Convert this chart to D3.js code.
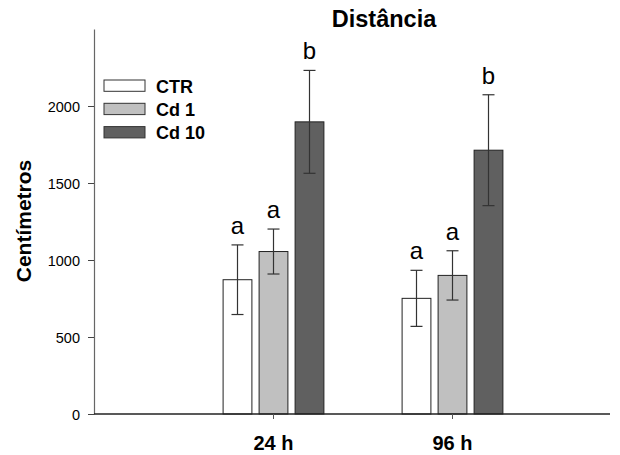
<!DOCTYPE html>
<html>
<head>
<meta charset="utf-8">
<script src="https://cdn.jsdelivr.net/npm/d3@7"></script>
<style>
  body { margin: 0; background: #fff; }
  text { font-family: "Liberation Sans", Arial, sans-serif; }
</style>
</head>
<body>
<div id="chart"></div>
<script>
// data
var groups = ["24 h", "96 h"];
var series = ["CTR", "Cd 1", "Cd 10"];
var means = [[872, 1055, 1897], [751, 900, 1713]];
var errors = [[226, 146, 334], [182, 160, 360]];
var letters = [["a", "a", "b"], ["a", "a", "b"]];
var yTicks = [0, 500, 1000, 1500, 2000];
var fills = ["#ffffff", "#c0c0c0", "#606060"];

var w = 620, h = 455;

var svg = d3.select("#chart")
            .append("svg")
            .attr("width", w)
            .attr("height", h);

var y = d3.scaleLinear().domain([0, 2500]).range([414, 29]);

// groups 179 px apart, centred at ~273 and ~452
var x0 = d3.scaleBand().domain(groups).range([184, 542]);
var x1 = d3.scaleBand().domain(series).range([-54, 54]).paddingInner(0.2).paddingOuter(0.1);

var color = d3.scaleOrdinal().domain(series).range(fills);

// y axis
var yAxis = svg.append("g")
    .attr("transform", "translate(94,0)")
    .call(d3.axisLeft(y).tickValues(yTicks).tickFormat(d3.format("d")).tickSize(6).tickSizeOuter(0));
yAxis.select(".domain").attr("stroke", "#666").attr("stroke-width", 1.2);
yAxis.selectAll(".tick line").attr("stroke", "#444");
yAxis.selectAll(".tick text")
    .attr("font-size", 14.5)
    .attr("fill", "#000")
    .attr("x", -14)
    .attr("dy", "0.36em");

// bars
var g = svg.selectAll(".grp")
    .data(groups)
    .enter()
    .append("g")
    .attr("transform", d => "translate(" + (x0(d) + x0.bandwidth() / 2) + ",0)");

g.each(function(grp, gi) {
    var sel = d3.select(this);
    var rows = series.map((s, si) => ({s: s, m: means[gi][si], e: errors[gi][si], l: letters[gi][si]}));

    sel.selectAll("rect")
        .data(rows)
        .enter()
        .append("rect")
        .attr("x", d => x1(d.s))
        .attr("width", x1.bandwidth())
        .attr("y", d => y(d.m))
        .attr("height", d => y(0) - y(d.m))
        .attr("fill", d => color(d.s))
        .attr("stroke", "#222")
        .attr("stroke-width", 1);

    var eb = sel.selectAll(".eb")
        .data(rows)
        .enter()
        .append("g")
        .attr("stroke", "#333")
        .attr("stroke-width", 1.2);
    eb.append("line")
        .attr("x1", d => x1(d.s) + x1.bandwidth() / 2)
        .attr("x2", d => x1(d.s) + x1.bandwidth() / 2)
        .attr("y1", d => y(d.m + d.e))
        .attr("y2", d => y(d.m - d.e));
    eb.append("line")
        .attr("x1", d => x1(d.s) + x1.bandwidth() / 2 - 6)
        .attr("x2", d => x1(d.s) + x1.bandwidth() / 2 + 6)
        .attr("y1", d => y(d.m + d.e))
        .attr("y2", d => y(d.m + d.e));
    eb.append("line")
        .attr("x1", d => x1(d.s) + x1.bandwidth() / 2 - 6)
        .attr("x2", d => x1(d.s) + x1.bandwidth() / 2 + 6)
        .attr("y1", d => y(d.m - d.e))
        .attr("y2", d => y(d.m - d.e));

    sel.selectAll(".lbl")
        .data(rows)
        .enter()
        .append("text")
        .attr("x", d => x1(d.s) + x1.bandwidth() / 2)
        .attr("y", d => y(d.m + d.e) - 11)
        .attr("text-anchor", "middle")
        .attr("font-size", 24)
        .text(d => d.l);
});

// x axis
var xAxis = svg.append("g")
    .attr("transform", "translate(0,414)")
    .call(d3.axisBottom(x0).tickSize(5).tickSizeOuter(0));
xAxis.select(".domain").attr("d", "M94,0H610").attr("stroke", "#222").attr("stroke-width", 1.6);
xAxis.selectAll(".tick line").attr("stroke", "#555");
xAxis.selectAll(".tick text")
    .attr("font-size", 20)
    .attr("font-weight", "bold")
    .attr("fill", "#000")
    .attr("y", 36)
    .attr("dy", 0);

// title and y label
svg.append("text")
    .attr("x", 384)
    .attr("y", 27)
    .attr("text-anchor", "middle")
    .attr("font-size", 23.5)
    .attr("font-weight", "bold")
    .text("Distância");

svg.append("text")
    .attr("transform", "translate(31,221) rotate(-90)")
    .attr("text-anchor", "middle")
    .attr("font-size", 21)
    .attr("font-weight", "bold")
    .text("Centímetros");

// legend
var legend = svg.selectAll(".leg")
    .data(series)
    .enter()
    .append("g")
    .attr("transform", (d, i) => "translate(104," + (80 + i * 23.3) + ")");
legend.append("rect")
    .attr("width", 41)
    .attr("height", 11.3)
    .attr("fill", d => color(d))
    .attr("stroke", "#333")
    .attr("stroke-width", 1);
legend.append("text")
    .attr("x", 52)
    .attr("y", 12.5)
    .attr("font-size", 18)
    .attr("font-weight", "bold")
    .text(d => d);
</script>
</body>
</html>
